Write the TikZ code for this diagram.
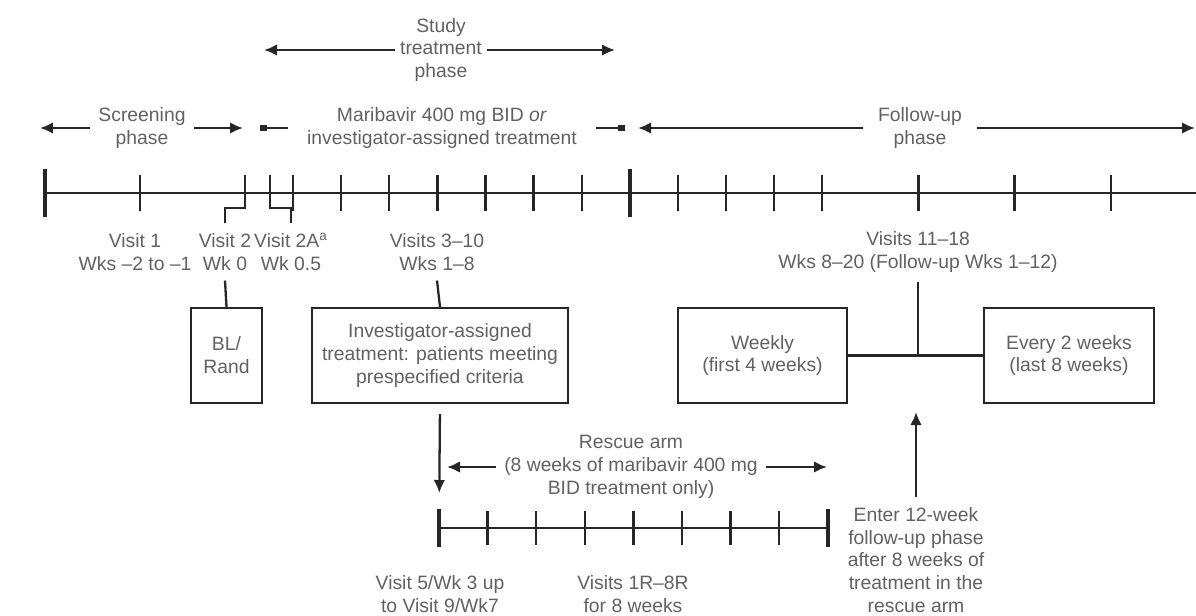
\documentclass[tikz,border=0pt]{standalone}
\usepackage{fontspec}
\setmainfont{Liberation Sans}
\usetikzlibrary{arrows.meta}

\begin{document}
\begin{tikzpicture}[x=0.02cm,y=-0.02cm,
  txt/.style={align=center,text=black!62,font=\fontsize{11}{13}\selectfont,inner xsep=4.5pt,inner ysep=5.5pt},
  box/.style={txt,draw=black!85,line width=1.3pt,minimum height=1.9cm},
  arr/.style={line width=1.3pt,draw=black!85,-{Latex[length=2.6mm,width=2.3mm]}},
  sq/.style={line width=1.3pt,draw=black!85,-{Square[length=1.4mm,width=1.4mm]}},
  tl/.style={line width=1.3pt,draw=black!85},
  tickline/.style={line width=1.3pt,draw=black!85},
  bigtick/.style={line width=2.8pt,draw=black!85}]

\useasboundingbox (0,0) rectangle (1196,615);

% Phase headings
\node[txt,inner xsep=2.5pt] (study) at (441,50) {Study\\treatment\\phase};
\node[txt] (scr) at (142,128) {Screening\\phase};
\node[txt,inner xsep=10.5pt] (mari) at (442,128) {Maribavir 400 mg BID \textit{or}\\investigator-assigned treatment};
\node[txt,inner xsep=8.5pt] (fol) at (920,128) {Follow-up\\phase};

\coordinate (studyL) at (264,50);
\coordinate (studyR) at (615,50);
\coordinate (scrL) at (40,128);
\coordinate (scrR) at (243,128);
\coordinate (maL) at (260,128);
\coordinate (maR) at (625,128);
\coordinate (folL) at (638,128);
\coordinate (folR) at (1195,128);

\draw[arr] (study.west) -- (studyL);
\draw[arr] (study.east) -- (studyR);
\draw[arr] (scr.west) -- (scrL);
\draw[arr] (scr.east) -- (scrR);
\draw[sq] (mari.west) -- (maL);
\draw[sq] (mari.east) -- (maR);
\draw[arr] (fol.west) -- (folL);
\draw[arr] (fol.east) -- (folR);

% Draw the main timeline
\draw[tl] (45,193) -- (1196,193);
\foreach \x in {45,630}
    \draw[bigtick] (\x,169) -- ++(0,48);
\draw[tickline] (140,175) -- ++(0,36);
\foreach \w in {1,...,7,9,10,11,12,14,16,18}
    \draw[tickline] ({245+48.1*\w},175) -- ++(0,36);

% Visit labels
\node[txt] (v1) at (135,252) {Visit 1\\Wks –2 to –1};
\node[txt] (v2) at (225,252) {Visit 2\\Wk 0};
\node[txt] (v2a) at (291,252) {Visit 2A\textsuperscript{a}\\Wk 0.5};
\node[txt] (v310) at (437,252) {Visits 3–10\\Wks 1–8};
\node[txt] (v1118) at (918,252) {Visits 11–18\\Wks 8–20 (Follow-up Wks 1–12)};

\draw[tickline] (245,175) -- (245,208) -| (v2.north);
\draw[tickline] (270,175) -- (270,208) -| (v2a.north);

% Boxes
\node[box,minimum width=1.42cm] (bl) at (226.5,355.5) {BL/\\Rand};
\node[box,minimum width=5.12cm] (inv) at (440,355.5) {Investigator-assigned\\treatment: patients meeting\\prespecified criteria};
\node[box,minimum width=3.38cm] (weekly) at (762.5,355.5) {Weekly\\(first 4 weeks)};
\node[box,minimum width=3.4cm] (every) at (1069,355.5) {Every 2 weeks\\(last 8 weeks)};

\draw[tl] (v2.south) -- (bl.north);
\draw[tl] (v310.south) -- (inv.north);
\draw[tl] (weekly.east) -- (every.west);
\draw[tl] (v1118.south) -- (v1118.south |- weekly.east);

% Rescue arm
\coordinate (r0) at (439,528);
\coordinate (r8) at (828,528);
\draw[arr,shorten <=0.2cm,shorten >=0.7cm] (inv.south) -- (r0);
\draw[tl] (r0) -- (r8);
\foreach \x in {439,828}
    \draw[bigtick] (\x,509) -- ++(0,38);
\foreach \k in {1,...,7}
    \draw[tickline] ({439+48.6*\k},511) -- ++(0,34);

\node[txt] (rescue) at (631,467) {Rescue arm\\(8 weeks of maribavir 400 mg\\BID treatment only)};
\coordinate (resL) at (447,467);
\coordinate (resR) at (827,467);
\draw[arr] (rescue.west) -- (resL);
\draw[arr] (rescue.east) -- (resR);

\node[txt] (r5) at (440,594) {Visit 5/Wk 3 up\\to Visit 9/Wk7};
\node[txt] (r1r) at (633,594) {Visits 1R–8R\\for 8 weeks};

% Enter follow-up
\node[txt] (enter) at (916,560) {Enter 12-week\\follow-up phase\\after 8 weeks of\\treatment in the\\rescue arm};
\coordinate (fu) at (916,412);
\draw[arr] (enter.north) -- (fu);

\end{tikzpicture}
\end{document}
